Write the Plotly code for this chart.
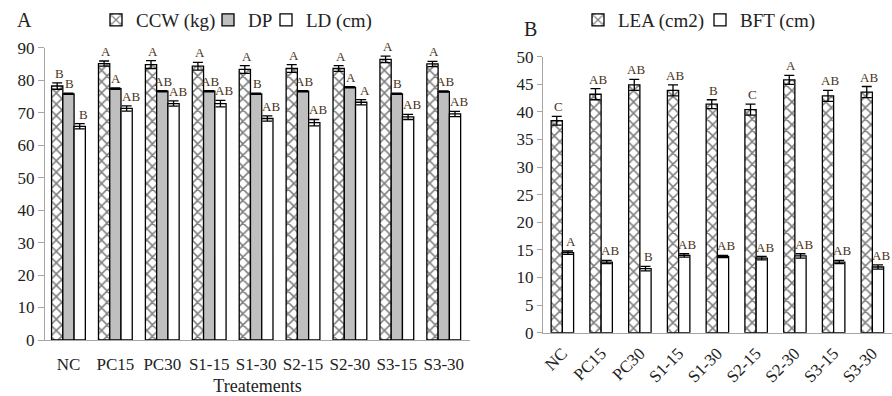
import plotly.graph_objects as go

# ---------------- data ----------------
treat = ["NC", "PC15", "PC30", "S1-15", "S1-30", "S2-15", "S2-30", "S3-15", "S3-30"]

ccw = [78.2, 85.1, 84.8, 84.3, 83.3, 83.6, 83.6, 86.4, 85.0]
ccw_err = [1.0, 0.8, 1.2, 1.2, 1.2, 1.2, 0.9, 1.0, 0.8]
ccw_lab = ["B", "A", "A", "A", "A", "A", "A", "A", "A"]

dp = [75.8, 77.4, 76.6, 76.6, 75.8, 76.6, 77.8, 75.8, 76.5]
dp_err = [0.2, 0.2, 0.2, 0.2, 0.2, 0.2, 0.2, 0.2, 0.2]
dp_lab = ["B", "A", "AB", "AB", "B", "AB", "A", "B", "AB"]

ld = [65.8, 71.3, 72.8, 72.8, 68.2, 66.9, 73.2, 68.7, 69.6]
ld_err = [0.8, 0.8, 0.8, 1.0, 0.8, 1.0, 0.8, 0.8, 0.8]
ld_lab = ["B", "AB", "AB", "AB", "AB", "AB", "A", "AB", "AB"]

lea = [38.4, 43.2, 44.9, 43.9, 41.4, 40.4, 45.8, 42.9, 43.6]
lea_err = [0.8, 1.0, 1.0, 1.0, 0.8, 1.0, 0.8, 1.0, 1.0]
lea_lab = ["C", "AB", "AB", "AB", "B", "C", "A", "AB", "AB"]

bft = [14.5, 12.8, 11.6, 14.0, 13.8, 13.5, 13.9, 12.8, 11.9]
bft_err = [0.3, 0.3, 0.4, 0.3, 0.2, 0.3, 0.4, 0.3, 0.4]
bft_lab = ["A", "AB", "B", "AB", "AB", "AB", "AB", "AB", "AB"]

# ---------------- styling ----------------
W, H = 892, 396
SERIF = "Liberation Serif, Times New Roman, serif"
AX = "#a6a6a6"
LAB = "#4a3320"
TXT = "#222222"

fig = go.Figure()


def add_bar(name, y, err, xa, ya, off, wid, color, pattern, legend):
    marker = dict(color=color, line=dict(color="black", width=1.3))
    if pattern:
        marker["pattern"] = dict(shape=pattern, fgcolor="black", bgcolor="white",
                                 size=8, solidity=0.35)
    fig.add_trace(go.Bar(
        x=treat, y=y, name=name, xaxis=xa, yaxis=ya,
        offset=off, width=wid, marker=marker, legend=legend,
        error_y=dict(type="data", array=err, color="black", thickness=1.3, width=5),
    ))


def add_labels(y, err, labs, off, wid, xref, yref, xshift):
    for i, (v, e, t) in enumerate(zip(y, err, labs)):
        fig.add_annotation(x=i + off + wid / 2, y=v + e, xref=xref, yref=yref,
                           text=t, showarrow=False, yanchor="bottom", xanchor="center",
                           xshift=xshift, yshift=0,
                           font=dict(family=SERIF, size=13, color=LAB))


# Chart A
wA = 0.24
add_bar("CCW (kg)", ccw, ccw_err, "x", "y", -0.36, wA, "white", "x", "legend")
add_bar("DP", dp, dp_err, "x", "y", -0.12, wA, "#bfbfbf", None, "legend2")
add_bar("LD (cm)", ld, ld_err, "x", "y", 0.12, wA, "white", None, "legend3")
add_labels(ccw, ccw_err, ccw_lab, -0.36, wA, "x", "y", 2)
add_labels(dp, dp_err, dp_lab, -0.12, wA, "x", "y", 1)
add_labels(ld, ld_err, ld_lab, 0.12, wA, "x", "y", 4)

# Chart B
wB = 0.29
add_bar("LEA (cm2)", lea, lea_err, "x2", "y2", -0.29, wB, "white", "x", "legend4")
add_bar("BFT (cm)", bft, bft_err, "x2", "y2", 0.0, wB, "white", None, "legend5")
add_labels(lea, lea_err, lea_lab, -0.29, wB, "x2", "y2", 2)
add_labels(bft, bft_err, bft_lab, 0.0, wB, "x2", "y2", 3)

tickfont = dict(family=SERIF, size=17, color=TXT)


def leg(xpx):
    return dict(orientation="h", x=xpx / W, y=1 - 20 / H, xanchor="left", yanchor="middle",
                font=dict(family=SERIF, size=19, color=TXT),
                itemwidth=30, bgcolor="rgba(0,0,0,0)")


fig.update_layout(
    width=W, height=H,
    margin=dict(l=0, r=0, t=0, b=0, autoexpand=False),
    paper_bgcolor="white", plot_bgcolor="white",
    barmode="overlay",
    showlegend=True,
    font=dict(family=SERIF, color=TXT),
    xaxis=dict(domain=[45 / W, 470 / W], anchor="y", type="category", automargin=False,
               showline=True, linecolor=AX, linewidth=1.3, ticks="",
               tickfont=dict(tickfont), ticklabelstandoff=8,
               title=dict(text="Treatements", font=dict(family=SERIF, size=18, color=TXT),
                          standoff=14)),
    yaxis=dict(domain=[1 - 340 / H, 1 - 47.7 / H], anchor="x", range=[0, 90], automargin=False,
               tickvals=[0, 10, 20, 30, 40, 50, 60, 70, 80, 90],
               showline=True, linecolor=AX, linewidth=1.3, ticks="outside",
               ticklen=6, tickcolor=AX, showgrid=False, zeroline=False,
               tickfont=dict(tickfont)),
    xaxis2=dict(domain=[543 / W, 1.0], anchor="y2", type="category", automargin=False,
                showline=True, linecolor=AX, linewidth=1.3, ticks="",
                tickangle=-45, tickfont=dict(tickfont), ticklabelstandoff=3),
    yaxis2=dict(domain=[1 - 332.7 / H, 1 - 56.7 / H], anchor="x2", range=[0, 50], automargin=False,
                tickvals=[0, 5, 10, 15, 20, 25, 30, 35, 40, 45, 50],
                showline=True, linecolor=AX, linewidth=1.3, ticks="outside",
                ticklen=5, tickcolor=AX, showgrid=False, zeroline=False,
                tickfont=dict(tickfont)),
    legend=leg(96),
    legend2=leg(208),
    legend3=leg(266),
    legend4=leg(578),
    legend5=leg(700),
)

fig.add_annotation(x=15 / W, y=1 - 20 / H, xref="paper", yref="paper", text="A",
                   showarrow=False, xanchor="left", yanchor="middle",
                   font=dict(family=SERIF, size=20, color=TXT))
fig.add_annotation(x=522 / W, y=1 - 29 / H, xref="paper", yref="paper", text="B",
                   showarrow=False, xanchor="left", yanchor="middle",
                   font=dict(family=SERIF, size=20, color=TXT))

fig.write_html("out.html", config={"displayModeBar": False},
               post_script="document.body.style.margin='0';document.body.style.overflow='hidden';")
